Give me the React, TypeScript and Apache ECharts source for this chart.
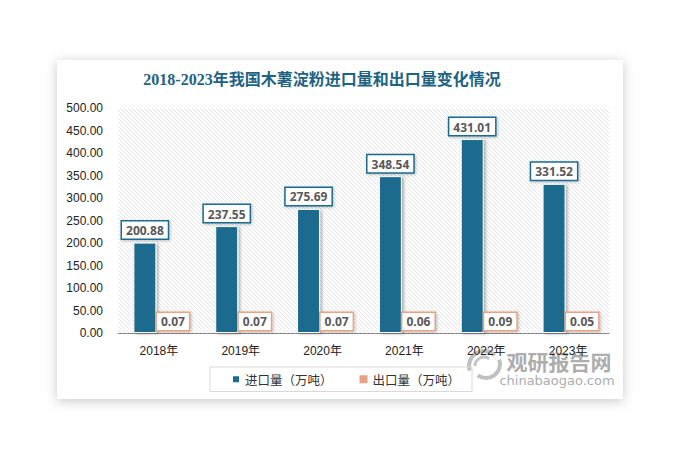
import React, { useEffect, useRef } from "react";
import * as echarts from "echarts";

const categories = ["2018年", "2019年", "2020年", "2021年", "2022年", "2023年"];
const importValues = [200.88, 237.55, 275.69, 348.54, 431.01, 331.52];
const exportValues = [0.07, 0.07, 0.07, 0.06, 0.09, 0.05];
const seriesNames = ["进口量（万吨）", "出口量（万吨）"];
const titleText = "2018-2023年我国木薯淀粉进口量和出口量变化情况";

const IMPORT_COLOR = "#1d6b8d";
const EXPORT_COLOR = "#e9a283";

function makeHatch(): HTMLCanvasElement {
  const c = document.createElement("canvas");
  c.width = 4;
  c.height = 4;
  const ctx = c.getContext("2d")!;
  ctx.fillStyle = "#ffffff";
  ctx.fillRect(0, 0, 4, 4);
  ctx.strokeStyle = "#dedede";
  ctx.lineWidth = 0.8;
  ctx.beginPath();
  ctx.moveTo(-1, -1);
  ctx.lineTo(5, 5);
  ctx.moveTo(-1, 3);
  ctx.lineTo(1, 5);
  ctx.moveTo(3, -1);
  ctx.lineTo(5, 1);
  ctx.stroke();
  return c;
}

export default function App() {
  const ref = useRef<HTMLDivElement>(null);
  useEffect(() => {
    document.body.style.margin = "0";
    const chart = echarts.init(ref.current!, null, { renderer: "svg" });
    const hatch = makeHatch();
    const labelBase = {
      show: true,
      position: "top" as const,
      fontFamily: "Open Sans",
      fontWeight: "bold" as const,
      fontSize: 12,
      color: "#595959",
      backgroundColor: "#ffffff",
      borderWidth: 1.5,
      padding: [3, 4, 2, 4],
      shadowColor: "rgba(0,0,0,0.25)",
      shadowBlur: 3,
      shadowOffsetX: 1,
      shadowOffsetY: 1,
      formatter: (p: any) => p.value.toFixed(2),
    };
    chart.setOption({
      animation: false,
      backgroundColor: "#ffffff",
      textStyle: { fontFamily: "Liberation Sans" },
      graphic: [
        {
          type: "rect",
          z: -10,
          shape: { x: 57, y: 60, width: 566, height: 339 },
          style: {
            fill: "#ffffff",
            shadowBlur: 12,
            shadowColor: "rgba(0,0,0,0.22)",
            shadowOffsetX: 0,
            shadowOffsetY: 2,
          },
        },
        {
          type: "text",
          x: 322,
          y: 79,
          style: {
            text: titleText,
            align: "center",
            verticalAlign: "middle",
            fontFamily: "Liberation Serif, Noto Sans CJK SC",
            fontWeight: "bold",
            fontSize: 16,
            fill: "#1e6284",
          },
        },
        {
          type: "group",
          z: 100,
          children: [
            {
              type: "arc",
              shape: { cx: 484, cy: 366, r: 15, startAngle: Math.PI * 0.9, endAngle: Math.PI * 1.75 },
              style: { stroke: "#c0c0c0", lineWidth: 4, fill: "none" },
            },
            {
              type: "arc",
              shape: { cx: 484, cy: 366, r: 9, startAngle: Math.PI * 1.0, endAngle: Math.PI * 1.7 },
              style: { stroke: "#c6c6c6", lineWidth: 3, fill: "none" },
            },
            {
              type: "arc",
              shape: { cx: 486, cy: 364, r: 14, startAngle: Math.PI * -0.1, endAngle: Math.PI * 0.7 },
              style: { stroke: "#c0c0c0", lineWidth: 4, fill: "none" },
            },
            {
              type: "text",
              x: 559,
              y: 361,
              style: {
                text: "观研报告网",
                align: "center",
                verticalAlign: "middle",
                fontFamily: "Noto Sans CJK SC",
                fontWeight: "bold",
                fontSize: 21,
                lineHeight: 22,
                fill: "#adadad",
              },
            },
            {
              type: "text",
              x: 557,
              y: 380,
              style: {
                text: "chinabaogao.com",
                align: "center",
                verticalAlign: "middle",
                fontFamily: "DejaVu Sans",
                fontSize: 13,
                lineHeight: 14,
                fill: "#adadad",
              },
            },
          ],
        },
      ],
      grid: {
        left: 118,
        top: 108,
        width: 491,
        height: 225,
        show: true,
        borderWidth: 0,
        backgroundColor: { image: hatch, repeat: "repeat" },
      },
      legend: {
        left: 210,
        top: 367,
        itemWidth: 8,
        itemHeight: 8,
        itemGap: 27,
        icon: "rect",
        borderColor: "#d9d9d9",
        borderWidth: 1,
        padding: [6, 12, 6, 21],
        textStyle: { fontFamily: "Noto Sans CJK SC", fontSize: 12.5, color: "#333" },
        data: seriesNames,
      },
      xAxis: {
        type: "category",
        data: categories,
        axisLine: { lineStyle: { color: "#8c8c8c", width: 1 } },
        axisTick: { show: false },
        axisLabel: { color: "#222", fontSize: 12, margin: 12, fontFamily: "Liberation Sans, Noto Sans CJK SC" },
      },
      yAxis: {
        type: "value",
        min: 0,
        max: 500,
        interval: 50,
        splitLine: { show: false },
        axisLine: { show: false },
        axisTick: { show: false },
        axisLabel: {
          color: "#222",
          fontSize: 12,
          margin: 15,
          formatter: (v: number) => v.toFixed(2),
        },
      },
      series: [
        {
          name: seriesNames[0],
          type: "bar",
          data: importValues,
          barWidth: 23,
          barGap: "22%",
          itemStyle: {
            color: IMPORT_COLOR,
            borderColor: "#ffffff",
            borderWidth: 1,
            shadowColor: "rgba(0,0,0,0.3)",
            shadowBlur: 3,
            shadowOffsetX: 2,
            shadowOffsetY: 1,
          },
          label: { ...labelBase, borderColor: IMPORT_COLOR, distance: 4 },
        },
        {
          name: seriesNames[1],
          type: "bar",
          data: exportValues,
          barWidth: 23,
          itemStyle: { color: EXPORT_COLOR },
          label: { ...labelBase, borderColor: EXPORT_COLOR, distance: 3 },
        },
      ],
    });
    return () => chart.dispose();
  }, []);
  return <div ref={ref} style={{ width: 686, height: 466 }} />;
}
